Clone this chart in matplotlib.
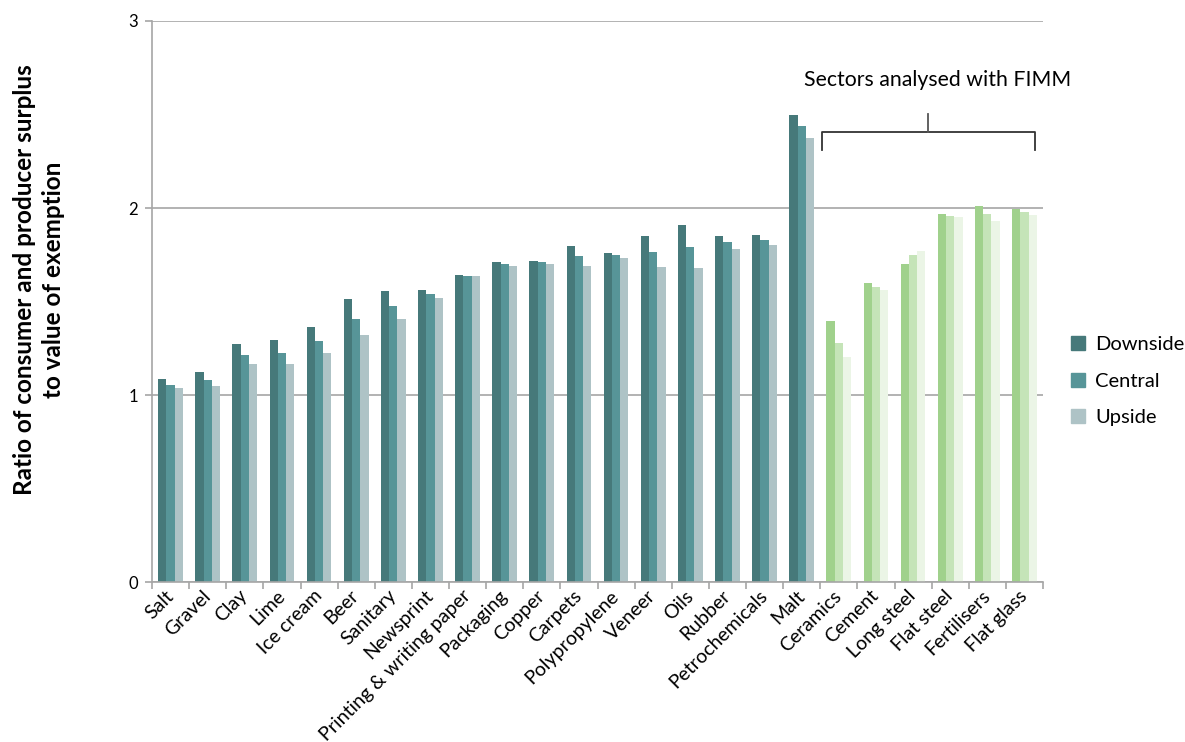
import numpy as np
import matplotlib
matplotlib.use("Agg")
import matplotlib.pyplot as plt
from matplotlib.patches import Patch

plt.rcParams['font.family'] = ['Lato', 'DejaVu Sans']

sectors = ["Salt", "Gravel", "Clay", "Lime", "Ice cream", "Beer", "Sanitary",
           "Newsprint", "Printing & writing paper", "Packaging", "Copper",
           "Carpets", "Polypropylene", "Veneer", "Oils", "Rubber",
           "Petrochemicals", "Malt", "Ceramics", "Cement", "Long steel",
           "Flat steel", "Fertilisers", "Flat glass"]

downside = [1.086, 1.121, 1.274, 1.294, 1.365, 1.515, 1.556, 1.561, 1.642,
            1.713, 1.717, 1.797, 1.761, 1.848, 1.911, 1.852, 1.856, 2.499,
            1.397, 1.601, 1.702, 1.968, 2.011, 1.996]
central = [1.055, 1.080, 1.215, 1.225, 1.289, 1.408, 1.478, 1.540, 1.638,
           1.702, 1.711, 1.745, 1.747, 1.766, 1.791, 1.820, 1.830, 2.440,
           1.280, 1.580, 1.750, 1.957, 1.968, 1.979]
upside = [1.037, 1.050, 1.166, 1.167, 1.226, 1.321, 1.406, 1.517, 1.636,
          1.691, 1.702, 1.691, 1.730, 1.684, 1.679, 1.781, 1.802, 2.376,
          1.205, 1.559, 1.771, 1.952, 1.930, 1.963]

# sectors from Ceramics onwards come from the FIMM model
n_fimm = 6

teal = ["#46797A", "#579598", "#AEC3C6"]
green = ["#A0D18C", "#C5E4B8", "#EBF5E6"]

fig = plt.figure(figsize=(11.85, 7.42), dpi=100)
ax = fig.add_axes([0.1283, 0.2156, 0.7519, 0.7561])

x = np.arange(len(sectors))
n_other = len(sectors) - n_fimm
w = 0.222
for k, (vals, off) in enumerate([(downside, -w), (central, 0), (upside, w)]):
    cols = [teal[k]] * n_other + [green[k]] * n_fimm
    ax.bar(x + off, vals, width=w, color=cols, zorder=2)

ax.set_xlim(-0.5, len(sectors) - 0.5)
ax.set_ylim(0, 3)
ax.set_yticks([0, 1, 2, 3])
ax.yaxis.grid(True, color="#A6A6A6", linewidth=1.2, zorder=0)
ax.set_axisbelow(True)

for s in ["top", "right"]:
    ax.spines[s].set_visible(False)
for s in ["left", "bottom"]:
    ax.spines[s].set_color("#A6A6A6")
    ax.spines[s].set_linewidth(1.2)

ax.tick_params(axis="y", length=5, color="#A6A6A6", width=1.2,
               labelsize=12, pad=5)
ax.set_xticks(x)
ax.set_xticklabels(sectors, rotation=45, ha="right", va="center",
                   rotation_mode="anchor", fontsize=14)
ax.tick_params(axis="x", length=0, pad=8)
ax.set_xticks(np.arange(len(sectors) + 1) - 0.5, minor=True)
ax.tick_params(axis="x", which="minor", length=5, color="#A6A6A6", width=1.2)

fig.text(0.033, 1 - 280 / 742,
         "Ratio of consumer and producer surplus\nto value of exemption",
         rotation=90, ha="center", va="center", fontsize=17.5,
         fontweight="bold", linespacing=1.35)

# bracket over the FIMM sectors
bl, br, by = 17.54, 23.28, 2.406
bm = (bl + br) / 2
ax.plot([bl, bl, br, br], [2.312, by, by, 2.312], color="#333333", lw=1.3,
        clip_on=False, zorder=3)
ax.plot([bm, bm], [by, 2.503], color="#555555", lw=1.3, clip_on=False, zorder=3)
ax.text(bm + 0.25, 2.684, "Sectors analysed with FIMM", ha="center",
        va="center", fontsize=15.3)

handles = [Patch(color=c) for c in teal]
ax.legend(handles, ["Downside", "Central", "Upside"], loc="center left",
          bbox_to_anchor=(1.011, 0.358), frameon=False, fontsize=14.5,
          handlelength=0.7, handleheight=0.7, handletextpad=0.5,
          labelspacing=0.95)

fig.savefig("out.png", dpi=100)
